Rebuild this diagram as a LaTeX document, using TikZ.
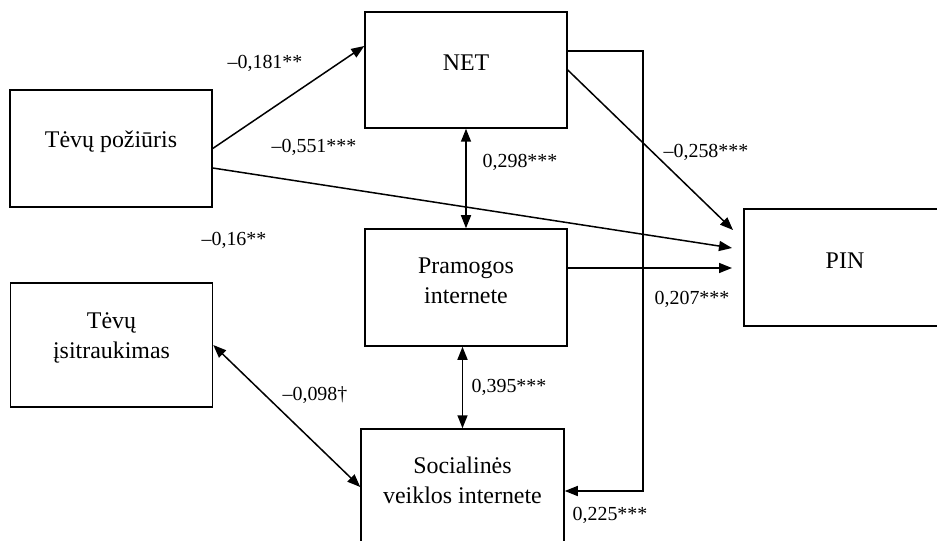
\documentclass[tikz,border=0pt]{standalone}
\usepackage{fontspec}
\setmainfont{Liberation Serif}
\usetikzlibrary{arrows.meta}

\tikzset{
	boxnode/.style={draw, line width=1.5bp, inner sep=0pt, minimum width=202bp, minimum height=117bp},
	boxtext/.style={font=\fontsize{24}{30}\selectfont, align=center, yshift=7pt},
	coef/.style={font=\fontsize{20}{24}\selectfont, inner sep=0pt},
	oneway/.style={line width=1.5bp, -{Triangle[length=13bp,width=10bp]}},
	twoway/.style={line width=1.5bp, {Triangle[length=13bp,width=10bp]}-{Triangle[length=13bp,width=10bp]}}
}

\begin{document}
\begin{tikzpicture}[x=1bp,y=-1bp]
	\useasboundingbox (0,0) rectangle (937,541);
	\clip (0,0) rectangle (937,541);
	% boxes
	\node[boxnode, label={[boxtext]center:Tėvų požiūris}] (tp) at (111,148.5) {};
	\node[boxnode, minimum height=124bp, label={[boxtext]center:Tėvų\\įsitraukimas}] (ti) at (111.5,345) {};
	\node[boxnode, minimum height=116bp, label={[boxtext]center:NET}] (net) at (466,70) {};
	\node[boxnode, label={[boxtext]center:Pramogos\\internete}] (pram) at (466,287.5) {};
	\node[boxnode, minimum width=203bp, label={[boxtext]center:Socialinės\\veiklos internete}] (soc) at (462.5,487.5) {};
	\node[boxnode, label={[boxtext]center:PIN}] (pin) at (845,267.5) {};
	% free ends in front of PIN
	\coordinate (pinA) at (733,230);
	\coordinate (pinB) at (732,248);
	\coordinate (pinC) at (732,268);
	\coordinate (bend) at (643,491);
	% paths
	\draw[oneway] (tp.east) -- (net.west |- 0,46);
	\draw[oneway] (tp.east |- 0,168) -- (pinB);
	\draw[oneway] (net.east) -- (pinA);
	\draw[oneway] (pram.east |- 0,268) -- (pinC);
	\draw[oneway] (net.east |- 0,51) -| (bend) -- (soc.east |- bend);
	\draw[twoway] (net.south) -- (pram.north);
	\draw[twoway] (soc.north |- pram.south) -- (soc.north);
	\draw[twoway] (ti.east) -- (soc.west |- 0,487);
	% coefficients
	\node[coef] (c181) at (265,63) {–0,181**};
	\node[coef] (c551) at (314,147) {–0,551***};
	\node[coef] (c16) at (234,240) {–0,16**};
	\node[coef] (c298) at (520,162) {0,298***};
	\node[coef] (c258) at (706,152) {–0,258***};
	\node[coef] (c207) at (692,299) {0,207***};
	\node[coef] (c395) at (509,387) {0,395***};
	\node[coef] (c225) at (610,515) {0,225***};
	\node[coef] (c098) at (315,395) {–0,098†};
\end{tikzpicture}
\end{document}
